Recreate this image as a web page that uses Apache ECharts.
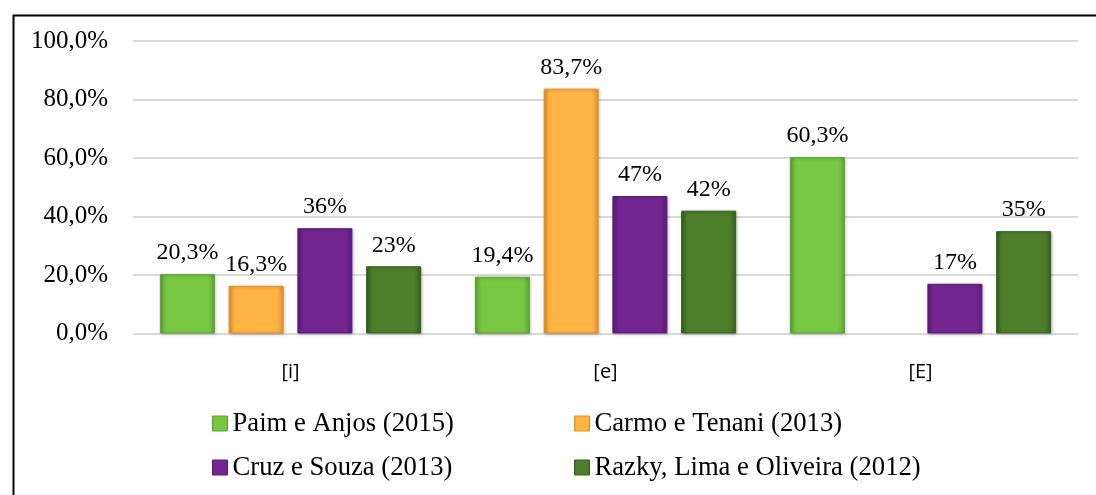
<!DOCTYPE html>
<html>
<head>
<meta charset="utf-8">
<script src="https://cdn.jsdelivr.net/npm/echarts@6/dist/echarts.min.js"></script>
<style>
html,body{margin:0;padding:0;background:#fff;}
#c{width:1096px;height:495px;}
</style>
</head>
<body>
<div id="c"></div>
<script>
const categories = ['[i]', '[e]', '[E]'];
const seriesNames = ['Paim e Anjos (2015)', 'Carmo e Tenani (2013)', 'Cruz e Souza (2013)', 'Razky, Lima e Oliveira (2012)'];
const paim = [20.3, 19.4, 60.3];
const carmo = [16.3, 83.7, null];
const cruz = [36, 47, 17];
const razky = [23, 42, 35];
const yTicks = [0, 20, 40, 60, 80, 100];

const palettes = [
  {edge: '#5EA332', face: '#78C844', light: '#9ED96E'},
  {edge: '#E0912A', face: '#FFB444', light: '#FFCF7A'},
  {edge: '#5A1A7E', face: '#742690', light: '#9A4FB3'},
  {edge: '#36601C', face: '#4D7F2B', light: '#6FA046'}
];

function grad(p) {
  return new echarts.graphic.LinearGradient(0, 0, 1, 0, [
    {offset: 0, color: p.edge},
    {offset: 0.12, color: p.face},
    {offset: 0.88, color: p.face},
    {offset: 1, color: p.edge}
  ]);
}

function fmt(v) {
  if (v == null) return '';
  return (Number.isInteger(v) ? String(v) : v.toFixed(1).replace('.', ',')) + '%';
}

const dataSets = [paim, carmo, cruz, razky];
const serif = '"Liberation Serif", "Times New Roman", serif';

const series = dataSets.map((d, i) => ({
  name: seriesNames[i],
  type: 'bar',
  data: d,
  barWidth: 55,
  barGap: '25%',
  itemStyle: {color: grad(palettes[i]), borderColor: palettes[i].edge, borderWidth: 1,
    shadowColor: 'rgba(0,0,0,0.25)', shadowBlur: 3, shadowOffsetX: 1, shadowOffsetY: 1},
  label: {show: true, position: 'top', distance: 9, color: '#000', fontFamily: serif, fontSize: 24,
    formatter: p => fmt(p.value)}
}));

const legendPos = [
  {left: 212, top: 410},
  {left: 574, top: 410},
  {left: 212, top: 454},
  {left: 574, top: 454}
];
const legends = seriesNames.map((n, i) => ({
  data: [{name: n, itemStyle: {color: grad(palettes[i]), borderColor: palettes[i].edge, borderWidth: 1}}],
  left: legendPos[i].left, top: legendPos[i].top,
  icon: 'rect', itemWidth: 15, itemHeight: 15, itemGap: 0, padding: 0,
  selectedMode: false,
  textStyle: {fontFamily: serif, fontSize: 26.67, color: '#000'}
}));

const chart = echarts.init(document.getElementById('c'), null, {renderer: 'canvas'});
chart.setOption({
  animation: false,
  backgroundColor: '#fff',
  grid: {left: 133, right: 18, top: 41, bottom: 161.5, containLabel: false},
  xAxis: {
    type: 'category', data: categories,
    axisLine: {show: false}, axisTick: {show: false},
    axisLabel: {fontFamily: '"Open Sans", "Liberation Sans", sans-serif', fontSize: 20, color: '#000', margin: 29}
  },
  yAxis: {
    type: 'value', min: 0, max: 100, interval: 20,
    axisLine: {show: false}, axisTick: {show: false},
    splitLine: {lineStyle: {color: '#D9D9D9', width: 2}},
    axisLabel: {fontFamily: serif, fontSize: 25, color: '#000', margin: 25,
      formatter: v => v.toFixed(1).replace('.', ',') + '%'}
  },
  legend: legends,
  graphic: [{
    type: 'rect', left: 11, top: 13, silent: true,
    shape: {x: 0, y: 0, width: 1100, height: 500},
    style: {fill: 'none', stroke: '#000', lineWidth: 2}
  }],
  series: series
});
</script>
</body>
</html>
